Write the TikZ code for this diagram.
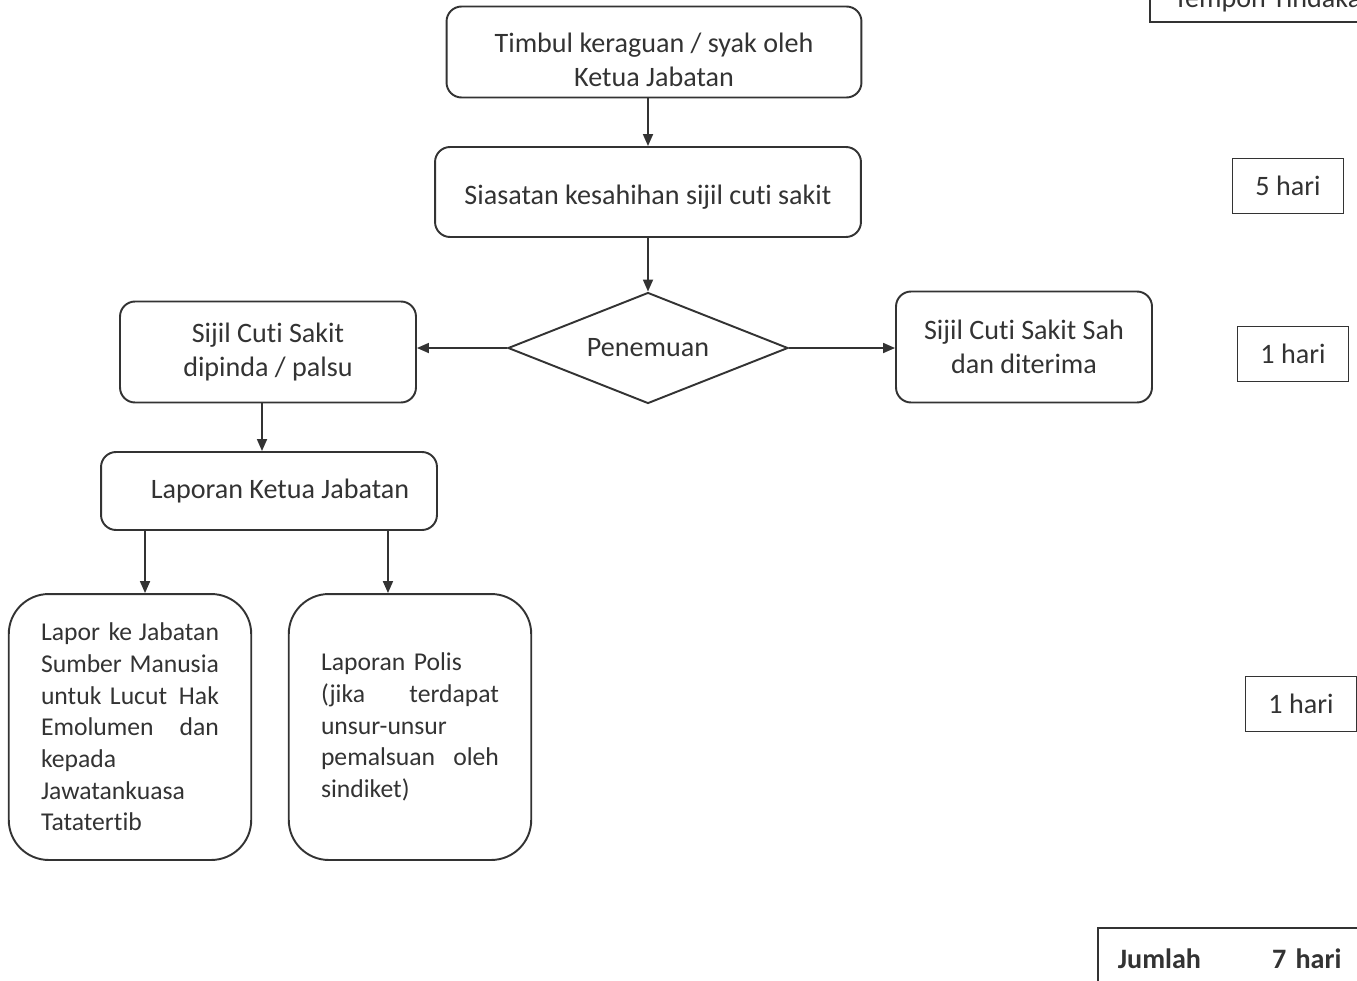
\documentclass[tikz,border=0pt]{standalone}
\usepackage{fontspec}
\setmainfont{Carlito}[Ligatures={NoCommon}]
\usetikzlibrary{shapes.geometric,arrows.meta}
\definecolor{ink}{HTML}{333333}
\newcommand{\jline}[2]{\makebox[3.56cm]{#1\hfill#2}}
\begin{document}
\begin{tikzpicture}[x=0.02cm,y=-0.02cm,
    every node/.style={text=ink},
    box/.style={draw=ink,line width=1.1pt,rounded corners=0.3cm,align=center,inner sep=0pt,
      font=\fontsize{16}{19.3}\selectfont},
    bigbox/.style={draw=ink,line width=1.1pt,rounded corners=0.8cm,align=left,inner sep=0pt,
      minimum width=4.85cm,minimum height=5.32cm,text width=3.56cm,
      font=\fontsize{14.6}{18}\selectfont},
    daybox/.style={draw=ink,line width=1pt,minimum width=2.22cm,minimum height=1.1cm,inner sep=0pt,
      font=\fontsize{16}{19.3}\selectfont},
    arr/.style={draw=ink,line width=1pt,-{Triangle[length=0.24cm,width=0.2cm]}}]
      \useasboundingbox (0,0) rectangle (1357,981);
      \clip (0,0) rectangle (1357,981);
      \node[box,minimum width=8.3cm,minimum height=1.82cm] at (654,52) (timbul) {\rule{0pt}{0.72cm}Timbul keraguan / syak oleh\\Ketua Jabatan};
      \node[box,minimum width=8.52cm,minimum height=1.8cm] at (648,192) (siasat) {\rule{0pt}{0.6cm}Siasatan kesahihan sijil cuti sakit};
      \node[box,shape=diamond,aspect=2.52,rounded corners=0pt,minimum width=5.6cm,minimum height=2.22cm] at (648,348) (penemuan) {Penemuan};
      \node[box,minimum width=5.92cm,minimum height=2.02cm] at (268,352) (dipinda) {Sijil Cuti Sakit\\dipinda / palsu};
      \node[box,minimum width=5.12cm,minimum height=2.22cm] at (1024,347) (sah) {Sijil Cuti Sakit Sah\\dan diterima};
      \node[box,minimum width=6.72cm,minimum height=1.56cm] at (269,491) (laporan) {\hspace*{0.44cm}Laporan Ketua Jabatan};
      \node[bigbox] at (130,727) (lsm) {\jline{Lapor ke}{Jabatan}\\\jline{Sumber}{Manusia}\\\jline{untuk Lucut}{Hak}\\\jline{Emolumen}{dan}\\kepada\\Jawatankuasa\\Tatatertib};
      \node[bigbox] at (410,727) (polis) {Laporan Polis\\\jline{(jika}{terdapat}\\unsur-unsur\\\jline{pemalsuan}{oleh}\\sindiket)};
      \path[arr] (timbul.south -| siasat.north) -- (siasat.north);
      \path[arr] (siasat) -- (penemuan);
      \path[arr] (penemuan.west) -- (penemuan.west -| dipinda.east);
      \path[arr] (penemuan.east) -- (penemuan.east -| sah.west);
      \path[arr] ([xshift=-0.12cm]dipinda.south) -- ([xshift=-0.12cm]dipinda.south |- laporan.north);
      \path[arr] ([xshift=-2.48cm]laporan.south) -- ([xshift=-2.48cm]laporan.south |- lsm.north);
      \path[arr] ([xshift=2.38cm]laporan.south) -- ([xshift=2.38cm]laporan.south |- polis.north);
      \node[daybox,minimum width=5cm,minimum height=0.88cm] at (1275,0) (tempoh) {Tempoh Tindakan};
      \node[daybox] at (1288,186) (hari5) {5 hari};
      \node[daybox] at (1293,354) (hari1a) {1 hari};
      \node[daybox] at (1301,704) (hari1b) {1 hari};
      \node[daybox,anchor=north west,minimum width=6cm,minimum height=1.24cm,align=left,text width=5.2cm,
        font=\fontsize{16}{19.3}\selectfont\bfseries] at (1097,927) (jumlah) {Jumlah\hspace{1.42cm}7 hari};
    \end{tikzpicture}
\end{document}
